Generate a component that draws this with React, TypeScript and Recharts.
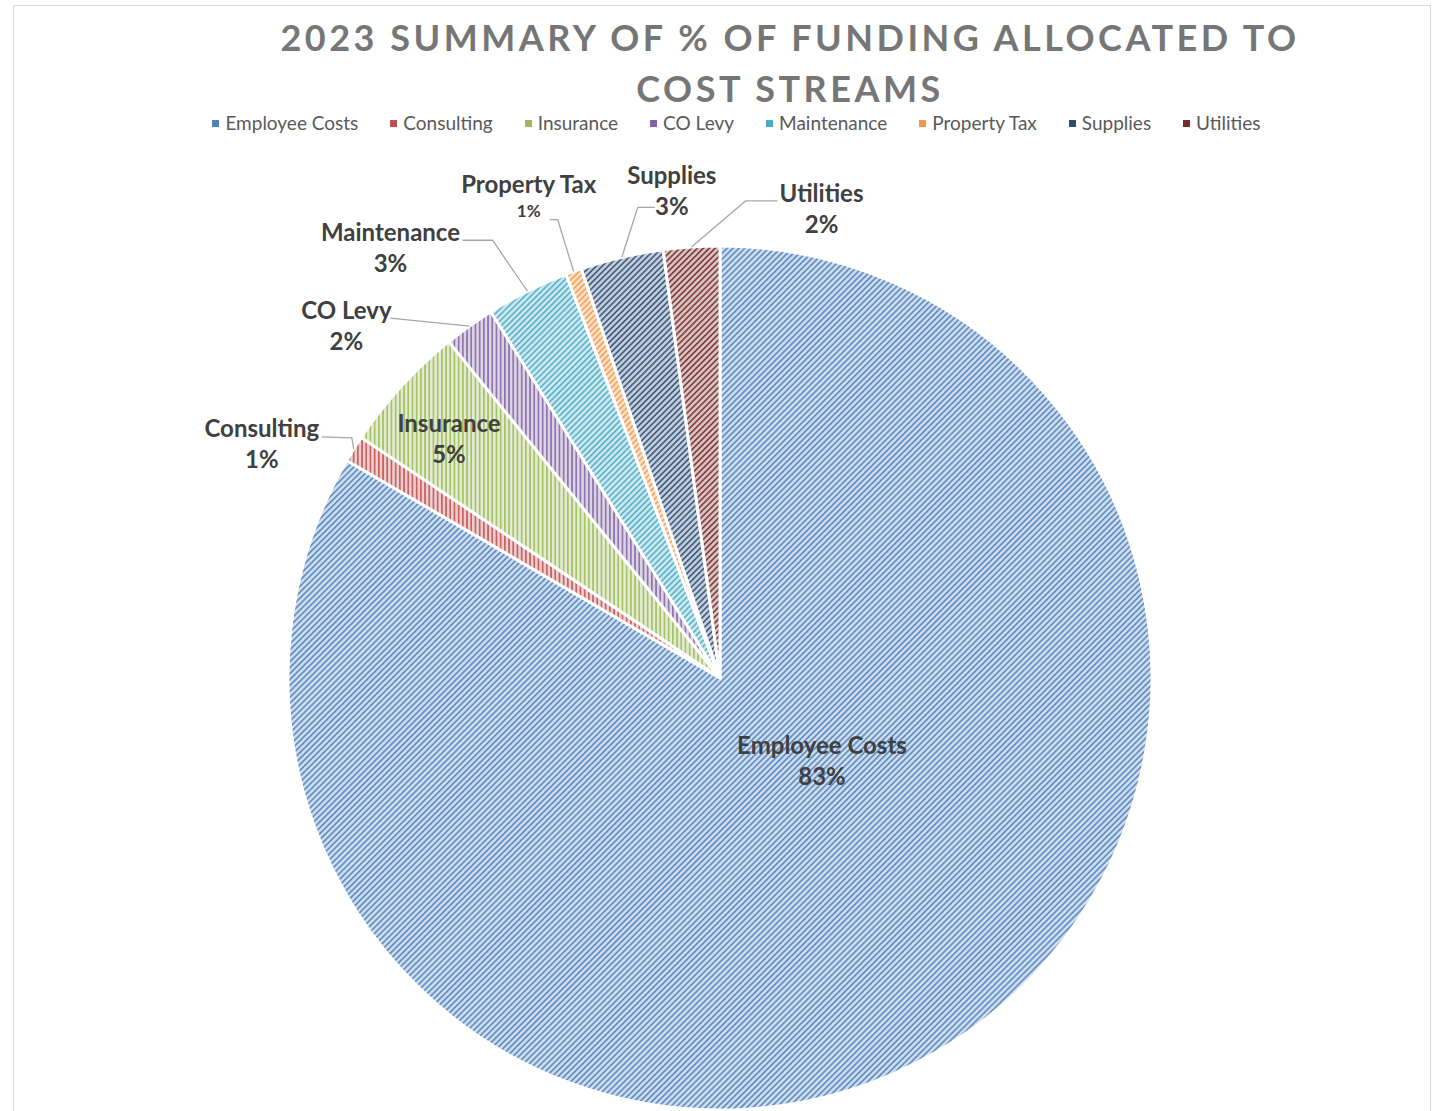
import React from "react";
import { PieChart, Pie, Cell } from "recharts";

const categories = ["Employee Costs", "Consulting", "Insurance", "CO Levy", "Maintenance", "Property Tax", "Supplies", "Utilities"];
const shares = [83.4, 1.0, 4.8, 1.9, 3.1, 0.6, 3.1, 2.1];
const titleLines = ["2023 SUMMARY OF % OF FUNDING ALLOCATED TO", "COST STREAMS"];

const colors = ["#4F81BD", "#C0504D", "#9BBB59", "#8064A2", "#4BACC6", "#F79646", "#2C4D75", "#772C2A"];
const patternKind = ["diag", "vert", "vert", "vert", "diag", "diag", "diag", "diag"];

// label layout: offsets relative to the pie centre (inside) or the slice's outer mid point (outside)
type Layout = { inside?: [number, number]; label?: [number, number]; leader?: [number, number][]; smallPct?: boolean };
const layouts: Layout[] = [
  { inside: [102, 82] },
  { label: [-92, -6], leader: [[-2, -11], [-32, -12]] },
  { inside: [-271, -240] },
  { label: [-123, -1], leader: [[-79, -8]] },
  { label: [-137, -44], leader: [[-35, -51], [-65, -51]] },
  { label: [-45, -73], leader: [[-16, -52], [-24, -52]], smallPct: true },
  { label: [50, -67], leader: [[16, -50], [33, -50]] },
  { label: [130, -39], leader: [[54, -46], [86, -46]] },
];

const data = categories.map((name, i) => ({ name, value: shares[i] }));
const total = shares.reduce((a, b) => a + b, 0);
const RAD = Math.PI / 180;
const FONT = "Lato, 'Open Sans', sans-serif";

const renderLabel = (props: any) => {
  const { cx, cy, midAngle, outerRadius, index, value } = props;
  const lay = layouts[index];
  const pct = Math.round((value / total) * 100) + "%";
  const name = categories[index];
  const cos = Math.cos(-midAngle * RAD);
  const sin = Math.sin(-midAngle * RAD);
  let lx: number, ly: number;
  let pts: string | null = null;
  if (lay.inside !== undefined) {
    lx = cx + lay.inside[0];
    ly = cy + lay.inside[1];
  } else {
    const ax = cx + outerRadius * cos;
    const ay = cy + outerRadius * sin;
    lx = ax + lay.label![0];
    ly = ay + lay.label![1];
    pts = [[ax, ay], ...lay.leader!.map(([dx, dy]) => [ax + dx, ay + dy])].map((p) => p.join(",")).join(" ");
  }
  return (
    <g key={"lbl" + index}>
      {pts && <polyline points={pts} fill="none" stroke="#a6a6a6" strokeWidth={1.3} />}
      <text x={lx} y={ly - 15.5} textAnchor="middle" dominantBaseline="central" fill="#404040" fontFamily={FONT} fontWeight={700} fontSize={24}>
        {name}
      </text>
      <text x={lx} y={ly + (lay.smallPct ? 12 : 15.5)} textAnchor="middle" dominantBaseline="central" fill="#404040" fontFamily={FONT} fontWeight={700} fontSize={lay.smallPct ? 17 : 24}>
        {pct}
      </text>
    </g>
  );
};

export default function App() {
  return (
    <div style={{ position: "absolute", left: 0, top: 0, width: 1441, height: 1111, background: "#fff", overflow: "hidden" }}>
      <svg width={0} height={0} style={{ position: "absolute" }}>
        <defs>
          {colors.map((c, i) => (
            <pattern
              key={i}
              id={"pat" + i}
              patternUnits="userSpaceOnUse"
              width={4.2}
              height={4.2}
              patternTransform={patternKind[i] === "diag" ? "rotate(45)" : undefined}
            >
              <rect width={4.2} height={4.2} fill="#fff" />
              <rect width={4.2} height={4.2} fill={c} opacity={0.28} />
              <rect x={0} y={0} width={1.7} height={4.2} fill={c} opacity={0.85} />
            </pattern>
          ))}
        </defs>
      </svg>
      <div style={{ position: "absolute", left: 13, top: 5, width: 1418, height: 1120, border: "1.5px solid #d9d9d9", boxSizing: "border-box" }} />
      <div style={{ position: "absolute", left: 0, width: 1580, top: 12, textAlign: "center", fontFamily: FONT, fontWeight: 700, fontSize: 36, letterSpacing: 3.5, color: "#767676", lineHeight: "51px" }}>
        {titleLines.map((t, i) => (
          <div key={i}>{t}</div>
        ))}
      </div>
      <div style={{ position: "absolute", left: 0, width: 1473, top: 111, display: "flex", justifyContent: "center", gap: 32, fontFamily: FONT, fontSize: 19, color: "#595959", lineHeight: "24px" }}>
        {categories.map((c, i) => (
          <div key={c} style={{ display: "flex", alignItems: "center" }}>
            <span style={{ display: "inline-block", width: 7, height: 7, background: colors[i], marginRight: 6 }} />
            <span>{c}</span>
          </div>
        ))}
      </div>
      <div style={{ position: "absolute", left: 0, top: 0 }}>
        <PieChart width={1441} height={1111} margin={{ top: 0, right: 0, bottom: 0, left: 0 }}>
          <Pie
            data={data}
            dataKey="value"
            nameKey="name"
            cx={720}
            cy={678}
            outerRadius={432}
            startAngle={90}
            endAngle={-270}
            stroke="#ffffff"
            strokeWidth={3}
            isAnimationActive={false}
            labelLine={false}
            label={renderLabel}
          >
            {data.map((d, i) => (
              <Cell key={d.name} fill={`url(#pat${i})`} />
            ))}
          </Pie>
        </PieChart>
      </div>
    </div>
  );
}
